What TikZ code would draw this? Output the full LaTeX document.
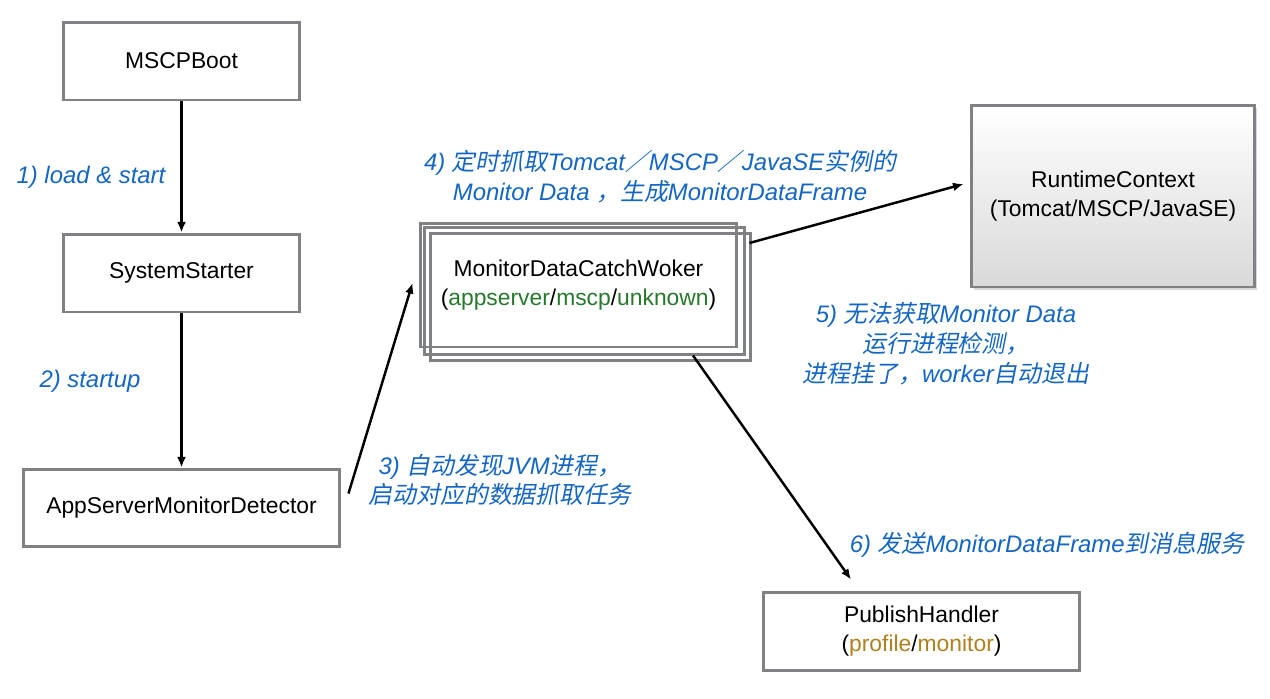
\documentclass[tikz,border=0pt]{standalone}
\usepackage{fontspec}
\setmainfont{Liberation Sans}
\newfontfamily\zh[FakeSlant=0.2]{Noto Sans CJK SC}
\usetikzlibrary{arrows.meta,shadows}
\definecolor{lblue}{RGB}{20,102,196}
\definecolor{wgreen}{RGB}{38,120,44}
\definecolor{pgold}{RGB}{176,128,30}
\definecolor{bgray}{RGB}{128,129,132}

\begin{document}
\begin{tikzpicture}[x=0.02cm, y=-0.02cm]
\tikzset{ >={Latex[length=6pt,width=5pt]},
  box/.style={draw=bgray, line width=1.7pt, align=center, inner sep=0pt,
              font=\fontsize{13}{16.5}\selectfont},
  lbl/.style={text=lblue, align=center, font=\fontsize{13.6}{17}\selectfont\itshape},
  arr/.style={->, line width=1.4pt},
}
\useasboundingbox (0,0) rectangle (1270,698);

% boxes
\node [box, minimum width=4.74cm, minimum height=1.56cm] (boot)    at (181.5,61)  {MSCPBoot};
\node [box, minimum width=4.74cm, minimum height=1.56cm] (starter) at (181.5,273) {SystemStarter};
\node [box, minimum width=6.34cm, minimum height=1.54cm] (det)     at (181.5,507.5) {AppServerMonitorDetector};

\node [box, minimum width=6.34cm, minimum height=2.48cm] (worker) at (578.5,285)
  {MonitorDataCatchWoker\\(\textcolor{wgreen}{appserver}/\textcolor{wgreen}{mscp}/\textcolor{wgreen}{unknown})};
\draw [bgray, line width=1.7pt] ([shift={(6,6)}]worker.south west) rectangle ([shift={(6,6)}]worker.north east);
\draw [bgray, line width=1.7pt] ([shift={(12,12)}]worker.south west) rectangle ([shift={(12,12)}]worker.north east);

\node [box, minimum width=5.66cm, minimum height=3.64cm, top color=white, bottom color=gray!30,
       drop shadow={shadow xshift=1.5pt, shadow yshift=-1.5pt, opacity=0.3}] (run) at (1113,196)
  {RuntimeContext\\(Tomcat/MSCP/JavaSE)};

\node [box, minimum width=6.34cm, minimum height=1.56cm] (pub) at (921.5,631)
  {PublishHandler\\(\textcolor{pgold}{profile}/\textcolor{pgold}{monitor})};

% connectors
\draw [arr] (boot) -- (starter);
\draw [arr] (starter) -- (det);
\draw [arr] ([shift={(7,-14)}]det.east) -- ([shift={(-6,-2)}]worker.west);
\draw [arr] ([shift={(11,-42)}]worker.east) -- ([shift={(-6.5,-12)}]run.west);
\draw [arr] ([shift={(114.5,7)}]worker.south) -- ([shift={(-70.5,-11)}]pub.north);

% step labels
\node [lbl] (l1) at (91,177) {1) load \& start};
\node [lbl] (l2) at (90,381) {2) startup};
\node [lbl] (l3) at (500,480) {3) {\zh 自动发现}JVM{\zh 进程，}\\{\zh 启动对应的数据抓取任务}};
\node [lbl] (l4) at (660,177) {4) {\zh 定时抓取}Tomcat{\zh ／}MSCP{\zh ／}JavaSE{\zh 实例的}\\Monitor Data {\zh ，生成}MonitorDataFrame};
\node [lbl] (l5) at (946,344) {5) {\zh 无法获取}Monitor Data\\{\zh 运行进程检测，}\\{\zh 进程挂了，}worker{\zh 自动退出}};
\node [lbl] (l6) at (1047,545) {6) {\zh 发送}MonitorDataFrame{\zh 到消息服务}};

\end{tikzpicture}
\end{document}
